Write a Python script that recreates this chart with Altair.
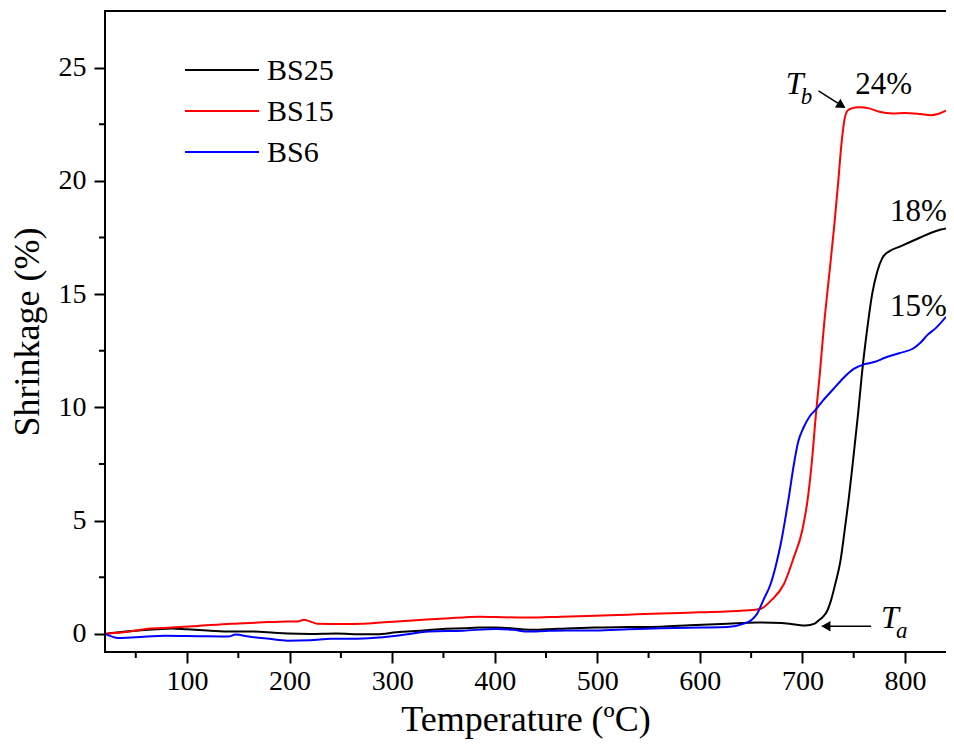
import altair as alt
import pandas as pd

# ---------------- data ----------------
BS25_T = [20, 40, 53, 70, 85, 100, 120, 143, 165, 185, 198, 220, 245, 272, 285, 304, 330, 352, 370, 385, 401, 418, 433, 450, 470, 498, 530, 562, 590, 627, 656, 680, 703, 712, 716, 720, 724, 728, 732, 737, 741, 745, 749, 754, 759, 763, 768, 773, 778, 785, 795, 805, 815, 825, 835, 840]
BS25_S = [0.0, 0.1, 0.15, 0.2, 0.24, 0.2, 0.15, 0.1, 0.1, 0.05, 0.02, 0.0, 0.02, -0.02, -0.02, 0.07, 0.15, 0.23, 0.25, 0.28, 0.28, 0.24, 0.18, 0.2, 0.24, 0.28, 0.3, 0.32, 0.38, 0.45, 0.5, 0.48, 0.37, 0.45, 0.6, 0.75, 1.0, 1.5, 2.2, 3.2, 4.5, 5.9, 7.5, 9.6, 11.9, 13.4, 15.0, 16.0, 16.6, 16.9, 17.1, 17.3, 17.5, 17.7, 17.85, 17.9]

BS15_T = [20, 40, 62, 85, 110, 143, 170, 198, 208, 214, 220, 227, 250, 272, 304, 330, 352, 385, 401, 433, 465, 498, 530, 562, 600, 643, 659, 670, 682, 691, 700, 705, 709, 713, 717, 721, 726, 731, 735, 738, 741, 744, 748, 755, 765, 775, 788, 800, 815, 825, 832, 840]
BS15_S = [0.0, 0.08, 0.23, 0.28, 0.35, 0.45, 0.5, 0.55, 0.55, 0.62, 0.55, 0.45, 0.44, 0.45, 0.55, 0.62, 0.68, 0.76, 0.74, 0.72, 0.76, 0.8, 0.85, 0.9, 0.95, 1.03, 1.1, 1.5, 2.2, 3.3, 4.6, 5.9, 7.5, 9.6, 11.5, 13.6, 15.8, 18.0, 20.0, 21.6, 22.7, 23.1, 23.2, 23.25, 23.2, 23.05, 22.98, 23.0, 22.95, 22.9, 22.95, 23.1]

BS6_T = [20, 33, 50, 79, 110, 140, 147.5, 160, 180, 198, 220, 240, 272, 304, 336, 369, 401, 418, 433, 450, 470, 498, 530, 562, 600, 627, 643, 650, 656, 662, 669, 674, 679, 683, 687, 691, 696, 701, 707, 713, 720, 730, 740, 750, 760, 770, 781, 795, 808, 815, 822, 830, 840]
BS6_S = [0.0, -0.18, -0.15, -0.08, -0.1, -0.12, -0.03, -0.12, -0.22, -0.3, -0.28, -0.22, -0.2, -0.08, 0.1, 0.14, 0.22, 0.18, 0.1, 0.13, 0.15, 0.15, 0.2, 0.25, 0.28, 0.3, 0.45, 0.6, 0.9, 1.5, 2.2, 3.0, 4.0, 5.0, 6.1, 7.3, 8.5, 9.1, 9.6, 9.9, 10.3, 10.8, 11.3, 11.7, 11.9, 12.0, 12.2, 12.4, 12.6, 12.85, 13.2, 13.5, 14.0]

SERIES = ["BS25", "BS15", "BS6"]
COLORS = ["#000000", "#ff0000", "#0000ff"]

X_MAJOR = [100, 200, 300, 400, 500, 600, 700, 800]
X_MINOR = [50, 150, 250, 350, 450, 550, 650, 750]
Y_MAJOR = [0, 5, 10, 15, 20, 25]
Y_MINOR = [2.5, 7.5, 12.5, 17.5, 22.5]

# annotation texts (data coordinates)
PCT_TEXT = ["24%", "18%", "15%"]
PCT_X = [751.6, 785.4, 785.4]
PCT_Y = [23.83, 18.24, 14.05]

T_LABEL = ["T", "T"]
T_X = [683.7, 776.7]
T_Y = [23.83, 0.28]
SUB_LABEL = ["b", "a"]
SUB_X = [698.3, 791.2]
SUB_Y = [23.39, -0.16]

ARROW_X = [715.7, 767.0]
ARROW_Y = [23.97, 0.335]
ARROW_X2 = [741.0, 719.0]
ARROW_Y2 = [23.25, 0.335]
HEAD_X = [736.9, 724.4]
HEAD_Y = [23.36, 0.335]
HEAD_ANGLE = [122, 270]

# ---------------- build tables ----------------
rows = []
for name, ts, ss in [("BS25", BS25_T, BS25_S), ("BS15", BS15_T, BS15_S), ("BS6", BS6_T, BS6_S)]:
    for t, s in zip(ts, ss):
        rows.append({"series": name, "T": t, "S": s})
df = pd.DataFrame(rows)

pct_df = pd.DataFrame({"text": PCT_TEXT, "T": PCT_X, "S": PCT_Y})
t_df = pd.DataFrame({"text": T_LABEL, "T": T_X, "S": T_Y})
sub_df = pd.DataFrame({"text": SUB_LABEL, "T": SUB_X, "S": SUB_Y})
arrow_df = pd.DataFrame({"T": ARROW_X, "S": ARROW_Y, "T2": ARROW_X2, "S2": ARROW_Y2})
head_df = pd.DataFrame({"T": HEAD_X, "S": HEAD_Y, "angle": HEAD_ANGLE})
xminor_df = pd.DataFrame({"T": X_MINOR})
yminor_df = pd.DataFrame({"S": Y_MINOR})

FONT = "Liberation Serif"
W, H = 841, 641
xscale = alt.Scale(domain=[20, 840], nice=False, zero=False)
yscale = alt.Scale(domain=[-0.8, 27.5], nice=False, zero=False)
cscale = alt.Scale(domain=SERIES, range=COLORS)

x_axis = alt.Axis(
    orient="bottom", values=X_MAJOR, tickSize=11, tickWidth=2, tickColor="black",
    domain=False, grid=False,
    labelFont=FONT, labelFontSize=28, labelColor="black", labelPadding=4,
    title="Temperature (ºC)", titleFont=FONT, titleFontSize=36,
    titleFontWeight="normal", titleColor="black", titlePadding=7, format="d",
)
y_axis = alt.Axis(
    orient="left", values=Y_MAJOR, tickSize=11, tickWidth=2, tickColor="black",
    domain=False, grid=False,
    labelFont=FONT, labelFontSize=28, labelColor="black", labelPadding=8,
    title="Shrinkage (%)", titleFont=FONT, titleFontSize=36,
    titleFontWeight="normal", titleColor="black", titlePadding=12, format="d",
)

X = lambda: alt.X("T:Q", scale=xscale)
Y = lambda: alt.Y("S:Q", scale=yscale)

lines = alt.Chart(df).mark_line(strokeWidth=2, interpolate="monotone").encode(
    x=alt.X("T:Q", scale=xscale, axis=x_axis),
    y=alt.Y("S:Q", scale=yscale, axis=y_axis),
    color=alt.Color("series:N", scale=cscale, legend=None),
)

# plot frame (top, left, bottom edges; the right edge is cut off in the reference)
frame_df = pd.DataFrame({"k": [0]})
right_cover = alt.Chart(frame_df).mark_rule(strokeWidth=3, color="white").encode(
    x=alt.value(W + 1), y=alt.value(2), y2=alt.value(H - 1)
)
top_border = alt.Chart(frame_df).mark_rule(strokeWidth=2, color="black").encode(
    x=alt.value(0), x2=alt.value(W), y=alt.value(0)
)
bottom_border = alt.Chart(frame_df).mark_rule(strokeWidth=2, color="black").encode(
    x=alt.value(-1), x2=alt.value(W), y=alt.value(H)
)
left_border = alt.Chart(frame_df).mark_rule(strokeWidth=2, color="black").encode(
    x=alt.value(0), y=alt.value(-1), y2=alt.value(H + 1)
)

xminor = alt.Chart(xminor_df).mark_rule(strokeWidth=2, color="black").encode(
    x=X(), y=alt.value(H), y2=alt.value(H + 6),
)
yminor = alt.Chart(yminor_df).mark_rule(strokeWidth=2, color="black").encode(
    y=Y(), x=alt.value(0), x2=alt.value(-6),
)

pct = alt.Chart(pct_df).mark_text(font=FONT, fontSize=31, align="left", baseline="alphabetic", color="black").encode(
    x=X(), y=Y(), text="text:N",
)
tlab = alt.Chart(t_df).mark_text(font=FONT, fontSize=32, fontStyle="italic", align="left", baseline="alphabetic", color="black").encode(
    x=X(), y=Y(), text="text:N",
)
sub = alt.Chart(sub_df).mark_text(font=FONT, fontSize=23, fontStyle="italic", align="left", baseline="alphabetic", color="black").encode(
    x=X(), y=Y(), text="text:N",
)
arrows = alt.Chart(arrow_df).mark_rule(strokeWidth=1.5, color="black").encode(
    x=X(), y=Y(), x2="T2:Q", y2="S2:Q",
)
heads = alt.Chart(head_df).mark_point(shape="triangle", filled=True, size=110, color="black", opacity=1).encode(
    x=X(), y=Y(), angle=alt.Angle("angle:Q", scale=None),
)

# legend (layout positions in plot-area pixels)
LEG_ROW_Y = [59, 100, 141]
legend_layers = []
for name, color, py in zip(SERIES, COLORS, LEG_ROW_Y):
    one = pd.DataFrame({"series": [name]})
    legend_layers.append(
        alt.Chart(one).mark_rule(strokeWidth=2, color=color).encode(
            x=alt.value(80), x2=alt.value(154), y=alt.value(py)
        )
    )
    legend_layers.append(
        alt.Chart(one).mark_text(font=FONT, fontSize=30, align="left", baseline="middle", color="black", dy=1).encode(
            x=alt.value(162), y=alt.value(py), text="series:N"
        )
    )

chart = alt.layer(
    right_cover, lines, top_border, bottom_border, left_border, xminor, yminor,
    pct, tlab, sub, arrows, heads, *legend_layers
).resolve_axis(
    x="shared", y="shared"
).properties(
    width=W, height=H,
    autosize=alt.AutoSizeParams(type="none"),
    padding={"left": 97, "top": 3, "right": 0, "bottom": 88},
    background="white",
).configure_view(stroke=None).configure_axis(domain=False, grid=False)

chart.save("out.html", embed_options={"renderer": "svg", "actions": False})
